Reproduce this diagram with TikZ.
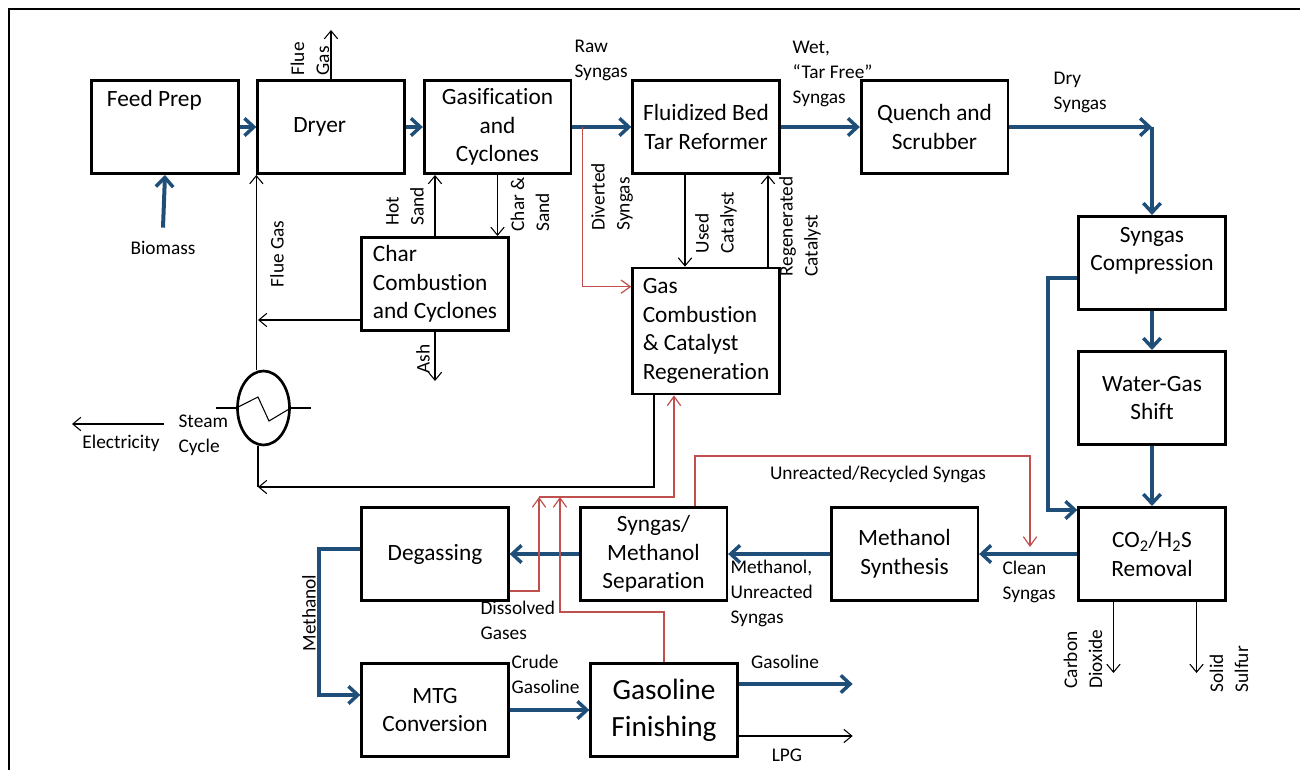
\documentclass[tikz,border=0pt]{standalone}
\usepackage{fontspec}
\setmainfont{Carlito}[Ligatures={TeX,NoCommon}]
\usetikzlibrary{positioning,arrows.meta,shapes.geometric,calc}
\definecolor{flowblue}{HTML}{1F4E79}
\definecolor{recred}{HTML}{C0504D}
\newcommand\boxfont{\fontsize{17.5}{21.4}\selectfont}
\newcommand\labfont{\fontsize{14.5}{18.75}\selectfont}
\newcommand\bigboxfont{\fontsize{22}{28}\selectfont}
\tikzset{
  unit/.style={draw,line width=2pt,minimum width=110pt,minimum height=70pt,
              inner sep=2pt,align=center,font=\boxfont},
  unitl/.style={unit,align=left},
  lab/.style={inner sep=1pt,align=left,font=\labfont},
  vlab/.style={lab,rotate=90,anchor=west},
  synflow/.style={draw=flowblue,line width=3pt,
                  -{Straight Barb[length=7pt,width=13pt,line width=2.6pt]}},
  side/.style={line width=0.8pt,-{Straight Barb[length=6pt,width=10pt]}},
  recyc/.style={draw=recred,line width=0.9pt,-{Straight Barb[length=7pt,width=10pt]}},
}

\begin{document}
\begin{tikzpicture}[x=0.75pt,y=-0.75pt]
  \useasboundingbox (0,0) rectangle (1300,770);
  \draw[line width=1.5pt] (9,770) -- (9,9) -- (1300,9);
  % --- process units ---
  \node[unit] (feed)   at (165,127)   {Feed Prep\hspace*{16pt}\\\mbox{}\\\mbox{}};
  \node[unit] (dryer)  at (331,127)   {Dryer\hspace*{17pt}};
  \node[unit] (gasif)  at (497.5,127) {Gasification\\and\\Cyclones};
  \node[unit] (fbtr)   at (706,127)   {Fluidized Bed\\Tar Reformer};
  \node[unit] (quench) at (934.5,127) {Quench and\\Scrubber};
  \node[unit] (comp)   at (1152,263)  {Syngas\\Compression\\\mbox{}};
  \node[unit] (wgs)    at (1152,398) {Water-Gas\\Shift};
  \node[unit] (co2)    at (1152,554) {CO\textsubscript{2}/H\textsubscript{2}S\\Removal};
  \node[unit] (msyn)   at (904.5,554) {Methanol\\Synthesis};
  \node[unit] (sep)    at (653.5,554) {Syngas/\\Methanol\\Separation};
  \node[unit] (degas)  at (435,554)   {Degassing};
  \node[unit] (mtg)    at (435,710)   {MTG\\Conversion};
  \node[unit,font=\bigboxfont] (gfin) at (664,710) {Gasoline\\Finishing};
  \node[unitl] (charc) at (435,284)   {Char\\Combustion\\and Cyclones};
  \node[unitl,minimum height=94.5pt] (gcomb) at (706,331)
        {Gas\\Combustion\\\& Catalyst\\Regeneration};
  \node[draw,ellipse,line width=2pt,minimum width=39pt,minimum height=55.5pt,
        inner sep=0] (hx) at (263.5,408) {};
  % --- stream labels ---
  \node[lab] (bio) at (163,248) {Biomass};
  \node[lab,anchor=west] (rawlab)   at (573,60.5)   {Raw\\Syngas};
  \node[lab,anchor=west] (wetlab)   at (791,74)     {Wet,\\``Tar Free''\\Syngas};
  \node[lab,anchor=west] (drylab)   at (1052,92.5)  {Dry\\Syngas};
  \node[lab,anchor=west] (steam)    at (177,435)    {Steam\\Cycle};
  \node[lab] (elec)   at (121,443) {Electricity};
  \node[lab] (unrlab) at (878,474) {Unreacted/Recycled Syngas};
  \node[lab,anchor=west] (cleanlab) at (1001,581.5) {Clean\\Syngas};
  \node[lab,anchor=west] (meohlab)  at (729,593.5)  {Methanol,\\Unreacted\\Syngas};
  \node[lab,anchor=west] (disslab)  at (479,620.5)  {Dissolved\\Gases};
  \node[lab,anchor=west] (crudelab) at (510,674.5)  {Crude\\Gasoline};
  \node[lab] (gaslab) at (785,662) {Gasoline};
  \node[lab] (lpglab) at (787,755) {LPG};
  \foreach \nm/\x/\y/\txt in {fluetop/310/77/{Flue\\Gas},hotsand/405/227/{Hot\\Sand},
      charsand/530/233/{Char \&\\Sand},divlab/612/232/{Diverted\\Syngas},
      usedlab/716/255/{Used\\Catalyst},regenlab/800/278/{Regenerated\\Catalyst},
      co2lab/1083/690/{Carbon\\Dioxide},sulflab/1229/694/{Solid\\Sulfur}} {
    \node[vlab] (\nm) at (\x,\y) {\txt};
  }
  \foreach \nm/\x/\y/\txt in {fluelab/277/254/{Flue Gas},ashlab/423/359/{Ash},
      methlab/309/613/{Methanol}} {
    \node[vlab,anchor=center] (\nm) at (\x,\y) {\txt};
  }
  % --- main syngas train (blue) ---
  \draw[synflow] ([yshift=9pt]bio.north) -- (feed.south);
  \draw[synflow] (feed.east) -- (dryer.west);
  \draw[synflow] (dryer.east) -- (gasif.west);
  \coordinate (div) at ($(gasif.east)+(10,0)$);
  \draw[synflow] (gasif.east) -- (fbtr.west);
  \draw[synflow] (fbtr.east) -- (quench.west);
  \coordinate (drycorner) at (comp.north |- quench.east);
  \draw[synflow] (quench.east) -- (drycorner);
  \draw[synflow] (drycorner) -- (comp.north);
  \draw[synflow] (comp) -- (wgs);
  \draw[synflow] (wgs) -- (co2);
  \coordinate (bypass) at (1048,278);
  \draw[synflow] (comp.west |- bypass) -- (bypass) |- ([yshift=-3pt]co2.north west);
  \draw[synflow] (co2.west) -- (msyn.east);
  \draw[synflow] (msyn.west) -- (sep.east);
  \draw[synflow] (sep.west) -- (degas.east);
  \draw[synflow] ([yshift=3.75pt]degas.west) -- ++(-41,0) |- ([yshift=11.25pt]mtg.west);
  \draw[synflow] (mtg.east) -- (gfin.west);
  \draw[synflow] ([yshift=19.5pt]gfin.east) -- ++(114,0);
  \draw[side] ([yshift=-19.5pt]gfin.east) -- ++(114,0);
  % --- solids loop and flue gas ---
  \draw[side] (dryer.north) -- ++(0,-49);
  \draw[side] (charc.north) -- (charc.north |- gasif.south);
  \draw[side] (gasif.south) -- (gasif.south |- charc.north);
  \draw[side] (charc.south) -- ++(0,49);
  \coordinate (fluej) at (258,320);
  \draw[side] (charc.west |- fluej) -- (fluej);
  \draw[side] (hx.north -| dryer.south west) -- (dryer.south west);
  \coordinate (hxret) at (258,487);
  \draw[line width=0.8pt] (hx.south -| hxret) -- (hxret);
  \coordinate (ret) at (654,487);
  \draw[side] (gcomb.south -| ret) -- (ret) -- (hxret);
  % heat exchanger
  \draw[line width=1.2pt] (hx.west) -- ++(-20,0);
  \draw[line width=1.2pt] (hx.east) -- ++(20,0);
  \draw[line width=0.8pt] (hx.west) -- ($(hx.center)+(-5.5,-11)$)
        -- ($(hx.center)+(5.5,13)$) -- (hx.east);
  \coordinate (elecA) at (164,424);
  \draw[side] (elecA) -- ++(-92,0);
  % --- catalyst loop ---
  \draw[side] ([xshift=-15.75pt]fbtr.south) -- ([xshift=-15.75pt]gcomb.north);
  \draw[side] ([xshift=46.5pt]gcomb.north) -- ([xshift=46.5pt]fbtr.south);
  \draw[recyc] (div) |- ([yshift=-15pt]gcomb.north west);
  % --- acid gas removal outlets ---
  \draw[side] ([xshift=-28.9pt]co2.south) -- ++(0,71);
  \draw[side] ([xshift=33.4pt]co2.south) -- ++(0,71);
  % --- recycle and off-gas (red) ---
  \coordinate (rc1) at (695,456);
  \coordinate (rc2) at (1030,456);
  \coordinate (rcend) at (1030,547);
  \draw[recyc] (sep.north -| rc1) -- (rc1) -- (rc2) -- (rcend);
  \coordinate (dg) at (539,497);
  \coordinate (gf1) at (560,612);
  \coordinate (gf2) at (560,497);
  \coordinate (rcol) at (674,497);
  \draw[recyc] ([yshift=-27.75pt]degas.east) -| (dg);
  \draw[recyc] (gfin.north) |- (gf1) -- (gf2);
  \draw[recyc] (dg) -- (rcol) -- (gcomb.south -| rcol);
\end{tikzpicture}
\end{document}
